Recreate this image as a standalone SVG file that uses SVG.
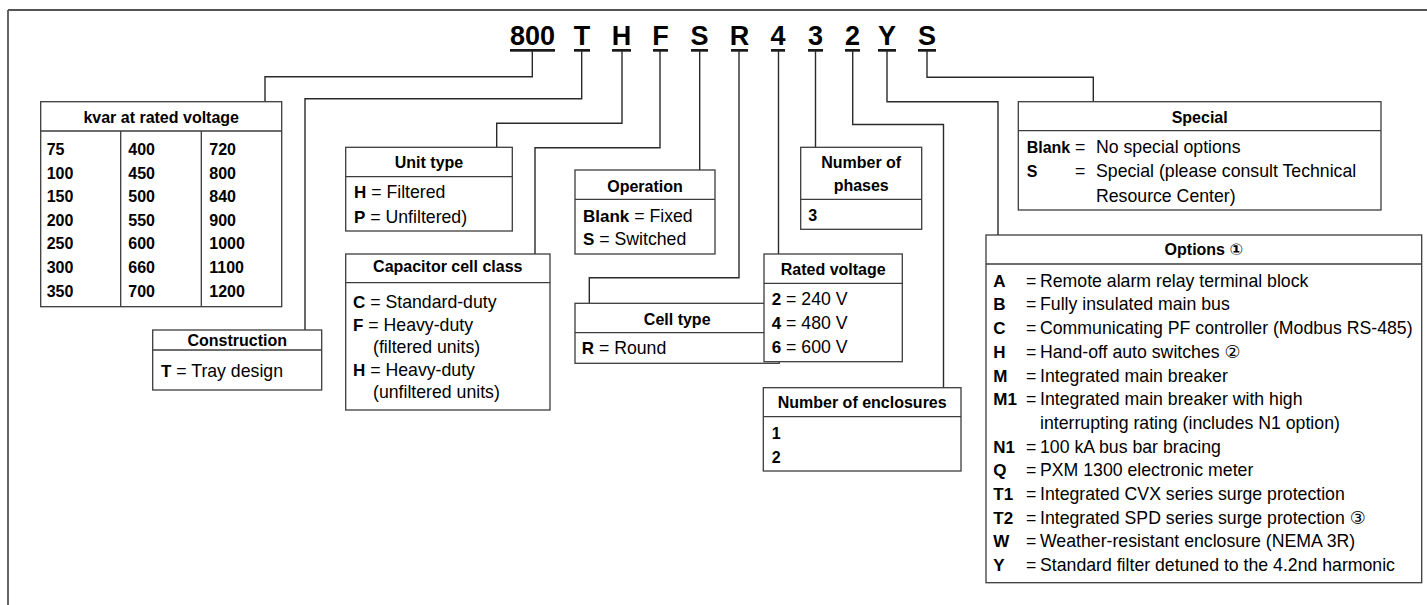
<svg xmlns="http://www.w3.org/2000/svg" width="1427" height="605" viewBox="0 0 1427 605">
<style>
text{font-family:"Liberation Sans",Arial,"DejaVu Sans",sans-serif;fill:#000}
.code{font-size:27px;font-weight:bold;text-anchor:middle}
.hd{font-size:16px;font-weight:bold;text-anchor:middle}
.t{font-size:17.7px}
.n{font-size:16px;font-weight:bold}
.b{font-weight:bold;font-size:17px}
.box{fill:#fff;stroke:#3c3c3c;stroke-width:1.3}
.div{stroke:#3c3c3c;stroke-width:1.3}
.conn path{fill:none;stroke:#2a2a2a;stroke-width:1.4}
.ul{fill:#1a1a1a}
</style>
<g id="frame"><path d="M8,10 H1427 M8,10 V605" fill="none" stroke="#555" stroke-width="1.8"/></g>
<g id="code">
<text class="code" x="532.5" y="45">800</text>
<text class="code" x="582" y="45">T</text>
<text class="code" x="621.5" y="45">H</text>
<text class="code" x="660.5" y="45">F</text>
<text class="code" x="699.5" y="45">S</text>
<text class="code" x="739.5" y="45">R</text>
<text class="code" x="778" y="45">4</text>
<text class="code" x="815.5" y="45">3</text>
<text class="code" x="852.5" y="45">2</text>
<text class="code" x="887" y="45">Y</text>
<text class="code" x="927" y="45">S</text>
<rect class="ul" x="510" y="49" width="45" height="2.7"/>
<rect class="ul" x="574" y="49" width="16" height="2.7"/>
<rect class="ul" x="612" y="49" width="19" height="2.7"/>
<rect class="ul" x="653" y="49" width="15" height="2.7"/>
<rect class="ul" x="691" y="49" width="17" height="2.7"/>
<rect class="ul" x="731" y="49" width="17" height="2.7"/>
<rect class="ul" x="771" y="49" width="14" height="2.7"/>
<rect class="ul" x="808" y="49" width="15" height="2.7"/>
<rect class="ul" x="845" y="49" width="15" height="2.7"/>
<rect class="ul" x="878" y="49" width="18" height="2.7"/>
<rect class="ul" x="918" y="49" width="18" height="2.7"/>
</g>
<g class="conn" id="connectors">
<path d="M532.3,51 V76.7 H265 V101.7"/>
<path d="M581.7,51 V98.7 H305 V330"/>
<path d="M622,51 V123.3 H496.7 V147.3"/>
<path d="M660,51 V147.7 H535 V254"/>
<path d="M699.7,51 V170"/>
<path d="M739,51 V277.7 H589.3 V303.3"/>
<path d="M778.5,51 V254"/>
<path d="M815.5,51 V147.3"/>
<path d="M852.7,51 V124.5 H943.5 V387.7"/>
<path d="M887,51 V101.7 H998 V235"/>
<path d="M927,51 V77.3 H1093.3 V101.7"/>
</g>
<g id="kvar">
<rect class="box" x="40.7" y="101.7" width="241" height="205"/>
<path class="div" d="M40.7,131 H281.7 M120.7,131 V306.7 M201.3,131 V306.7"/>
<text class="hd" x="161.2" y="123.3">kvar at rated voltage</text>
<g class="n">
<text x="46.7" y="155">75</text><text x="128.3" y="155">400</text><text x="209.3" y="155">720</text>
<text x="46.7" y="178.6">100</text><text x="128.3" y="178.6">450</text><text x="209.3" y="178.6">800</text>
<text x="46.7" y="202.2">150</text><text x="128.3" y="202.2">500</text><text x="209.3" y="202.2">840</text>
<text x="46.7" y="225.8">200</text><text x="128.3" y="225.8">550</text><text x="209.3" y="225.8">900</text>
<text x="46.7" y="249.4">250</text><text x="128.3" y="249.4">600</text><text x="209.3" y="249.4">1000</text>
<text x="46.7" y="273">300</text><text x="128.3" y="273">660</text><text x="209.3" y="273">1100</text>
<text x="46.7" y="296.7">350</text><text x="128.3" y="296.7">700</text><text x="209.3" y="296.7">1200</text>
</g>
</g>
<g id="construction">
<rect class="box" x="152.7" y="330" width="169" height="60"/>
<path class="div" d="M152.7,350 H321.7"/>
<text class="hd" x="237.2" y="345.5">Construction</text>
<text class="t" x="161" y="376.7"><tspan class="b">T</tspan> = Tray design</text>
</g>
<g id="unit-type">
<rect class="box" x="345.7" y="147.3" width="166.6" height="83.7"/>
<path class="div" d="M345.7,176.7 H512.3"/>
<text class="hd" x="429" y="168">Unit type</text>
<text class="t" x="354" y="198.3"><tspan class="b">H</tspan> = Filtered</text>
<text class="t" x="354" y="222.7"><tspan class="b">P</tspan> = Unfiltered)</text>
</g>
<g id="capacitor-cell-class">
<rect class="box" x="345.7" y="254" width="204.3" height="156"/>
<path class="div" d="M345.7,282.7 H550"/>
<text class="hd" x="447.8" y="271.7">Capacitor cell class</text>
<text class="t" x="353" y="308.3"><tspan class="b">C</tspan> = Standard-duty</text>
<text class="t" x="353" y="330.8"><tspan class="b">F</tspan> = Heavy-duty</text>
<text class="t" x="373" y="353.3">(filtered units)</text>
<text class="t" x="353" y="375.8"><tspan class="b">H</tspan> = Heavy-duty</text>
<text class="t" x="373" y="398.3">(unfiltered units)</text>
</g>
<g id="operation">
<rect class="box" x="575" y="170" width="140" height="84"/>
<path class="div" d="M575,199.3 H715"/>
<text class="hd" x="645" y="191.7">Operation</text>
<text class="t" x="583" y="221.7"><tspan class="b">Blank</tspan> = Fixed</text>
<text class="t" x="583" y="245"><tspan class="b">S</tspan> = Switched</text>
</g>
<g id="cell-type">
<rect class="box" x="575" y="303.3" width="204.3" height="60"/>
<path class="div" d="M575,332.7 H779.3"/>
<text class="hd" x="677.2" y="325">Cell type</text>
<text class="t" x="581.7" y="354"><tspan class="b">R</tspan> = Round</text>
</g>
<g id="number-of-phases">
<rect class="box" x="800.7" y="147.3" width="121" height="82"/>
<path class="div" d="M800.7,199.3 H921.7"/>
<text class="hd" x="861.2" y="168.3">Number of</text>
<text class="hd" x="861.2" y="190.7">phases</text>
<text class="n" x="808.3" y="220.7">3</text>
</g>
<g id="rated-voltage">
<rect class="box" x="764" y="254" width="138.3" height="107.7"/>
<path class="div" d="M764,283.3 H902.3"/>
<text class="hd" x="833.2" y="275">Rated voltage</text>
<text class="t" x="771.7" y="305"><tspan class="b">2</tspan> = 240 V</text>
<text class="t" x="771.7" y="329.3"><tspan class="b">4</tspan> = 480 V</text>
<text class="t" x="771.7" y="353.3"><tspan class="b">6</tspan> = 600 V</text>
</g>
<g id="number-of-enclosures">
<rect class="box" x="763.3" y="387.7" width="197.7" height="83.3"/>
<path class="div" d="M763.3,416.7 H961"/>
<text class="hd" x="862.2" y="408.3">Number of enclosures</text>
<text class="n" x="771.7" y="439.3">1</text>
<text class="n" x="771.7" y="462.7">2</text>
</g>
<g id="special">
<rect class="box" x="1018.3" y="101.7" width="362.7" height="108.3"/>
<path class="div" d="M1018.3,130.7 H1381"/>
<text class="hd" x="1199.7" y="123.3">Special</text>
<text class="n" x="1026.7" y="153.3">Blank</text><text class="t" x="1075" y="153.3">=</text><text class="t" x="1096" y="153.3">No special options</text>
<text class="n" x="1026.7" y="177.3">S</text><text class="t" x="1075" y="177.3">=</text><text class="t" x="1096" y="177.3">Special (please consult Technical</text>
<text class="t" x="1096" y="201.7">Resource Center)</text>
</g>
<g id="options">
<rect class="box" x="986" y="235" width="435.7" height="347.7"/>
<path class="div" d="M986,264 H1421.7"/>
<text class="hd" x="1203.8" y="255">Options ①</text>
<g class="t">
<text class="b" x="993.3" y="286.7">A</text><text x="1026" y="286.7">=</text><text x="1040" y="286.7">Remote alarm relay terminal block</text>
<text class="b" x="993.3" y="310.4">B</text><text x="1026" y="310.4">=</text><text x="1040" y="310.4">Fully insulated main bus</text>
<text class="b" x="993.3" y="334.1">C</text><text x="1026" y="334.1">=</text><text x="1040" y="334.1">Communicating PF controller (Modbus RS-485)</text>
<text class="b" x="993.3" y="357.8">H</text><text x="1026" y="357.8">=</text><text x="1040" y="357.8">Hand-off auto switches ②</text>
<text class="b" x="993.3" y="381.5">M</text><text x="1026" y="381.5">=</text><text x="1040" y="381.5">Integrated main breaker</text>
<text class="b" x="993.3" y="405.2">M1</text><text x="1026" y="405.2">=</text><text x="1040" y="405.2">Integrated main breaker with high</text>
<text x="1040" y="428.9">interrupting rating (includes N1 option)</text>
<text class="b" x="993.3" y="452.6">N1</text><text x="1026" y="452.6">=</text><text x="1040" y="452.6">100 kA bus bar bracing</text>
<text class="b" x="993.3" y="476.3">Q</text><text x="1026" y="476.3">=</text><text x="1040" y="476.3">PXM 1300 electronic meter</text>
<text class="b" x="993.3" y="500">T1</text><text x="1026" y="500">=</text><text x="1040" y="500">Integrated CVX series surge protection</text>
<text class="b" x="993.3" y="523.7">T2</text><text x="1026" y="523.7">=</text><text x="1040" y="523.7">Integrated SPD series surge protection ③</text>
<text class="b" x="993.3" y="547.4">W</text><text x="1026" y="547.4">=</text><text x="1040" y="547.4">Weather-resistant enclosure (NEMA 3R)</text>
<text class="b" x="993.3" y="571.1">Y</text><text x="1026" y="571.1">=</text><text x="1040" y="571.1">Standard filter detuned to the 4.2nd harmonic</text>
</g>
</g>
</svg>
